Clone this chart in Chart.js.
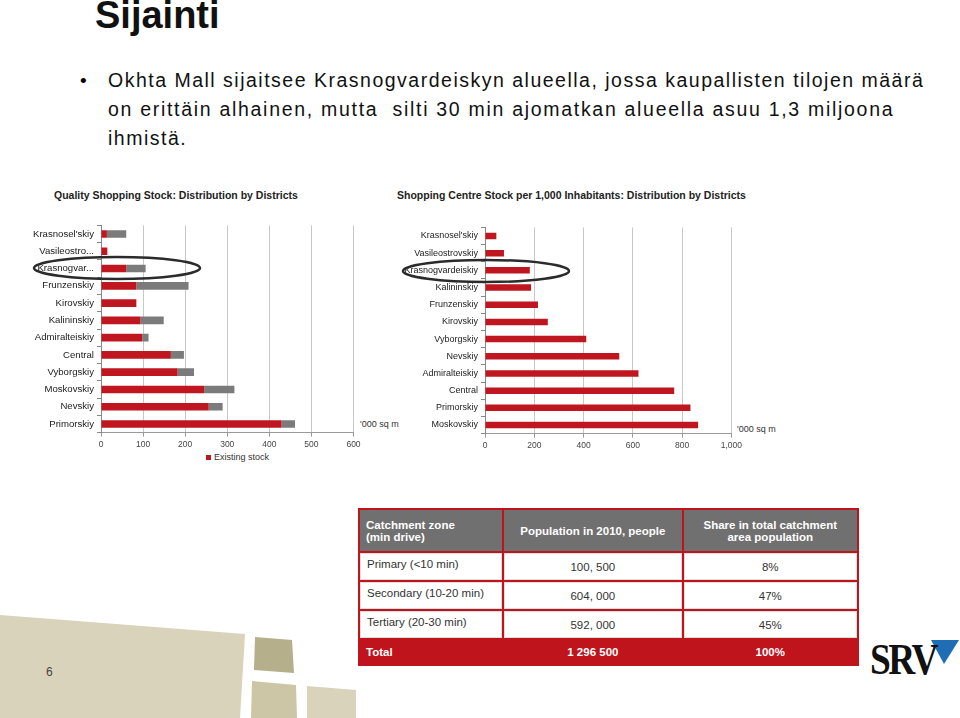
<!DOCTYPE html>
<html>
<head>
<meta charset="utf-8">
<script src="https://cdn.jsdelivr.net/npm/chart.js"></script>
<style>
  body { margin: 0; width: 960px; height: 718px; background: #fff; position: relative; overflow: hidden; font-family: "Liberation Sans", Arial, sans-serif; }
  .abs { position: absolute; }
  #title { left: 95px; top: -6px; font-size: 38px; font-weight: bold; color: #111; }
  #bullet { left: 108px; top: 66px; width: 850px; font-size: 19.5px; line-height: 29px; color: #111; letter-spacing: 1.5px; white-space: nowrap; }
  #bullet .l2 { letter-spacing: 1.7px; }
  #dot { left: 80px; top: 66px; font-size: 19px; line-height: 29px; }
  .ctitle { font-size: 10.5px; font-weight: bold; color: #222; }
  .unit { font-size: 9px; color: #333; }
  #legend { left: 206px; top: 452px; font-size: 9px; color: #333; }
  #legend span { display: inline-block; width: 5px; height: 5px; background: #c0161f; margin-right: 3px; }
  table { position: absolute; left: 358px; top: 508px; width: 501px; border-collapse: separate; border-spacing: 2px; background: #c0141c; font-family: "Liberation Sans", Arial, sans-serif; }
  td { box-sizing: border-box; padding: 0 6px; font-size: 11.5px; color: #333; background: #fff; border: 1px solid #ddd; }
  tr.head td { background: #707070; color: #fff; font-weight: bold; height: 41px; border: none; }
  tr.body td { height: 27px; }
  tr.body td:first-child { vertical-align: top; padding-top: 4px; }
  tr.total td { background: #c0141c; color: #fff; font-weight: bold; height: 24px; border: none; }
  .c { text-align: center; }
</style>
</head>
<body>
<svg class="abs" style="left:0;top:0" width="960" height="718">
  <polygon points="0,615 245,634 240,718 0,718" fill="#d9d3bb"/>
  <polygon points="255,637 292,640 294,673 254,670" fill="#b6af8b"/>
  <polygon points="252,681 296,685 297,718 251,718" fill="#ccc6a6"/>
  <polygon points="307,686 356,690 356,718 307,718" fill="#d9d3bb"/>
  <polygon points="931,640 959,640 944,664" fill="#1f6db4"/>
</svg>
<div class="abs" style="left:46px;top:665px;font-size:12px;color:#444">6</div>
<div class="abs" style="left:870px;top:634px;font-family:'Liberation Serif',serif;font-weight:bold;font-size:44px;color:#111;letter-spacing:-3px;transform:scaleX(0.85);transform-origin:left">SRV</div>

<div id="title" class="abs">Sijainti</div>
<div id="dot" class="abs">•</div>
<div id="bullet" class="abs">Okhta Mall sijaitsee Krasnogvardeiskyn alueella, jossa kaupallisten tilojen määrä<br><span class="l2">on erittäin alhainen, mutta&nbsp; silti 30 min ajomatkan alueella asuu 1,3 miljoona</span><br>ihmistä.</div>

<div class="abs ctitle" style="left:54px;top:189px">Quality Shopping Stock: Distribution by Districts</div>
<div class="abs ctitle" style="left:397px;top:189px">Shopping Centre Stock per 1,000 Inhabitants: Distribution by Districts</div>
<div class="abs unit" style="left:360px;top:419px">'000 sq m</div>
<div class="abs unit" style="left:737px;top:424px">'000 sq m</div>
<div id="legend" class="abs"></div>

<canvas id="left" class="abs" style="left:20px;top:215px" width="345" height="235"></canvas>
<canvas id="right" class="abs" style="left:400px;top:215px" width="345" height="236"></canvas>

<svg class="abs" style="left:0;top:0;pointer-events:none" width="960" height="718">
  <ellipse cx="117" cy="268" rx="83" ry="11" fill="none" stroke="#2b2b2b" stroke-width="2.5"/>
  <ellipse cx="486" cy="271" rx="83" ry="11" fill="none" stroke="#2b2b2b" stroke-width="2.5"/>
</svg>

<table id="tbl"></table>

<script>
// Quality Shopping Stock ('000 sq m)
const leftDistricts = ["Krasnosel'skiy", "Vasileostro...", "Krasnogvar...", "Frunzenskiy", "Kirovskiy", "Kalininskiy",
  "Admiralteiskiy", "Central", "Vyborgskiy", "Moskovskiy", "Nevskiy", "Primorskiy"];
const existingStock = [14, 15, 60, 84, 84, 94, 98, 166, 182, 245, 256, 429];
const pipelineStock = [46, 0, 46, 124, 0, 55, 15, 31, 39, 72, 33, 32];
const leftTicks = [0, 100, 200, 300, 400, 500, 600];

// Shopping Centre Stock per 1,000 inhabitants
const rightDistricts = ["Krasnosel'skiy", "Vasileostrovskiy", "Krasnogvardeiskiy", "Kalininskiy", "Frunzenskiy", "Kirovskiy",
  "Vyborgskiy", "Nevskiy", "Admiralteiskiy", "Central", "Primorskiy", "Moskovskiy"];
const stockPer1000 = [46, 77, 182, 187, 215, 255, 411, 545, 623, 768, 834, 865];
const rightTicks = [0, 200, 400, 600, 800, 1000];

// Catchment table
const zones = ["Primary (<10 min)", "Secondary (10-20 min)", "Tertiary (20-30 min)"];
const population = ["100, 500", "604, 000", "592, 000"];
const shares = ["8%", "47%", "45%"];
const totalRow = ["Total", "1 296 500", "100%"];

const RED = "#c0161f";
const GREY = "#7b7b7b";

function axes(ticks, yWidth, labelSize, fmt) {
  return {
    x: {
      stacked: true, min: ticks[0], max: ticks[ticks.length - 1],
      afterBuildTicks: s => { s.ticks = ticks.map(v => ({ value: v })); },
      afterFit: s => { s.height = 17.4; },
      grid: { color: "#c8c8c8", tickLength: 4, tickColor: "#999" },
      border: { color: "#999" },
      ticks: { font: { size: 8.5, family: "Liberation Sans" }, color: "#444", padding: 3, callback: fmt }
    },
    y: {
      stacked: true,
      afterFit: s => { s.width = yWidth; },
      grid: { drawOnChartArea: false, tickLength: 4, tickColor: "#888", offset: true },
      border: { color: "#888" },
      ticks: { font: { size: labelSize, family: "Liberation Sans" }, color: "#222", padding: 3, autoSkip: false }
    }
  };
}

const leftChart = new Chart(document.getElementById("left"), {
  type: "bar",
  data: {
    labels: leftDistricts,
    datasets: [
      { label: "Existing stock", data: existingStock, backgroundColor: RED, categoryPercentage: 1, barPercentage: 0.44 },
      { label: "Pipeline", data: pipelineStock, backgroundColor: GREY, categoryPercentage: 1, barPercentage: 0.44 }
    ]
  },
  options: {
    indexAxis: "y", responsive: false, maintainAspectRatio: false, animation: false,
    layout: { padding: { top: 10.4, right: 11.5, left: 0, bottom: 0 } },
    plugins: { legend: { display: false }, tooltip: { enabled: false } },
    scales: axes(leftTicks, 81, 9.6, v => v)
  }
});

const rightChart = new Chart(document.getElementById("right"), {
  type: "bar",
  data: {
    labels: rightDistricts,
    datasets: [
      { label: "Stock per 1,000 inhabitants", data: stockPer1000, backgroundColor: RED, categoryPercentage: 1, barPercentage: 0.38 }
    ]
  },
  options: {
    indexAxis: "y", responsive: false, maintainAspectRatio: false, animation: false,
    layout: { padding: { top: 12.4, right: 12.3, left: 0, bottom: 0 } },
    plugins: { legend: { display: false }, tooltip: { enabled: false } },
    scales: axes(rightTicks, 85, 9, v => v.toLocaleString("en-US"))
  }
});

// legend for the left chart (first series only, as on the slide)
document.getElementById("legend").innerHTML = "<span></span>" + leftChart.data.datasets[0].label;

// table
const tbl = document.getElementById("tbl");
let html = '<colgroup><col style="width:141px"><col style="width:176px"><col style="width:172px"></colgroup>';
html += '<tr class="head"><td>Catchment zone<br>(min drive)</td><td class="c">Population in 2010, people</td><td class="c">Share in total catchment<br>area population</td></tr>';
zones.forEach((z, i) => {
  html += `<tr class="body"><td>${z}</td><td class="c">${population[i]}</td><td class="c">${shares[i]}</td></tr>`;
});
html += `<tr class="total"><td>${totalRow[0]}</td><td class="c">${totalRow[1]}</td><td class="c">${totalRow[2]}</td></tr>`;
tbl.innerHTML = html;
</script>
</body>
</html>
